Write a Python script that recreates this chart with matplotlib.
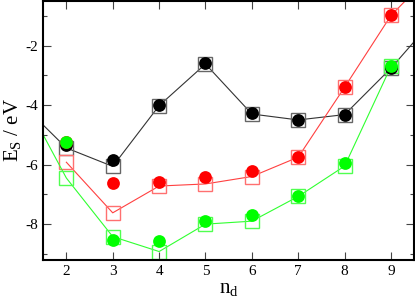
import numpy as np
import matplotlib
matplotlib.use("Agg")
import matplotlib.pyplot as plt
from matplotlib.ticker import MultipleLocator

plt.rcParams['font.family'] = ['Liberation Serif', 'DejaVu Serif']
plt.rcParams['mathtext.fontset'] = 'custom'
plt.rcParams['mathtext.rm'] = 'Liberation Serif'
plt.rcParams['mathtext.it'] = 'Liberation Serif'
plt.rcParams['axes.unicode_minus'] = False

# squares + lines (model)
nd_black = [1, 2, 3, 4, 5, 6, 7, 8, 9, 10]
es_black = [-3.9, -5.44, -6.06, -4.02, -2.62, -4.3, -4.5, -4.32, -2.76, -0.98]
nd_red = [2, 3, 4, 5, 6, 7, 8, 9, 10]
es_red = [-5.92, -7.62, -6.72, -6.65, -6.4, -5.75, -3.4, -0.99, 0.6]
nd_green = [1, 2, 3, 4, 5, 6, 7, 8, 9]
es_green = [-3.55, -6.45, -8.42, -8.92, -8.0, -7.9, -7.07, -6.05, -2.7]

# filled circles (reference)
nd_pts = [2, 3, 4, 5, 6, 7, 8, 9]
ref_black = [-5.33, -5.85, -4.0, -2.6, -4.28, -4.5, -4.32, -2.76]
ref_red = [-5.25, -6.63, -6.58, -6.4, -6.22, -5.74, -3.4, -0.99]
ref_green = [-5.24, -8.53, -8.55, -7.9, -7.7, -7.07, -5.94, -2.68]

fig = plt.figure(figsize=(4.15, 2.98), dpi=100)
ax = fig.add_axes([0.104, 0.128, 0.894, 0.869])

ax.plot(nd_black, es_black, '-', color='#333333', lw=0.8, marker='s', ms=9.5,
        mfc='none', mec='#666666', mew=1.0, zorder=2)
ax.plot(nd_red, es_red, '-', color='#ff4040', lw=0.8, marker='s', ms=9.5,
        mfc='none', mec='#ff7070', mew=1.0, zorder=2)
ax.plot(nd_green, es_green, '-', color='#30ff30', lw=0.8, marker='s', ms=9.5,
        mfc='none', mec='#50ff50', mew=1.0, zorder=2)

ax.plot(nd_pts, ref_black, 'o', color='black', ms=9.2, mew=0, zorder=3)
ax.plot(nd_pts, ref_red, 'o', color='#ff0000', ms=9.2, mew=0, zorder=3)
ax.plot(nd_pts, ref_green, 'o', color='#00ff00', ms=9.2, mew=0, zorder=4)

ax.set_xlim(1.5, 9.5)
ax.set_ylim(-9.2, -0.5)
ax.xaxis.set_major_locator(MultipleLocator(1))
ax.xaxis.set_ticks(range(2, 10))
ax.yaxis.set_major_locator(MultipleLocator(2))
ax.yaxis.set_minor_locator(MultipleLocator(1))
ax.tick_params(which='both', direction='in', top=True, right=True,
               labelsize=11, width=0.8, color='#444444')
ax.tick_params(which='major', length=6)
ax.tick_params(which='minor', length=3)
for s in ax.spines.values():
    s.set_linewidth(1.5)

ax.set_xlabel(r'n$_\mathrm{d}$', fontsize=15, labelpad=1)
ax.set_ylabel(r'E$_\mathrm{S}$ / eV', fontsize=15, labelpad=2)

fig.savefig('out.png', dpi=100)
